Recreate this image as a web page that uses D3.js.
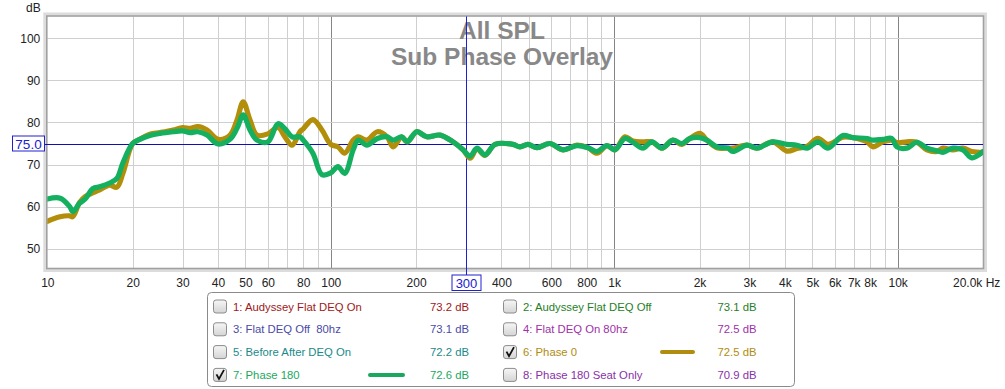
<!DOCTYPE html>
<html><head><meta charset="utf-8">
<script src="https://cdn.jsdelivr.net/npm/d3@7/dist/d3.min.js"></script>
<style>
html,body{margin:0;padding:0;background:#fff;}
svg{display:block;font-family:"Liberation Sans",Arial,sans-serif;}
text{white-space:pre;}
</style></head>
<body>
<svg id="c" width="1005" height="389"></svg>
<script>
// ---- data ----
const freqs = [10,11.1,12.0,12.3,13.0,13.6,14.5,15.3,16.6,17.6,18.5,20,21.2,23.0,25.0,27.8,30,31.9,34.0,36.6,40,44.1,46.7,49.1,51.9,54.9,60,65.1,68.9,73.0,77.9,80,86.5,93.1,100,106,112,120,125,134,146,158,166,178,186,201,218,243,270,293,310,328,350,380,439,465,496,534,593,659,739,808,869,943,1006,1091,1164,1262,1358,1473,1611,1733,1849,2006,2123,2303,2518,2622,2939,3187,3629,4066,4410,4783,5229,5672,6408,6950,7788,8176,8867,9540,9935,10777,11688,12679,13752,14437,15656,16982,18270,20000];
const phase0 = [56.5,57.6,57.8,57.6,61.0,62.4,63.3,64.0,65.1,64.6,68.0,75.0,76.0,77.2,77.6,78.2,78.8,78.6,79.0,78.2,76.0,77.0,80.6,84.9,80.6,77.0,77.3,78.8,76.6,74.6,77.8,78.5,80.7,78.2,74.8,74.2,72.7,75.8,76.6,75.8,77.8,76.6,74.2,76.6,75.4,77.8,76.6,77.0,75.4,73.5,71.5,73.7,72.2,74.8,74.8,74.2,74.8,74.0,75.0,73.5,74.6,74.0,72.7,74.5,73.5,76.6,75.6,75.4,75.4,73.9,75.8,74.8,76.2,77.4,75.8,74.0,73.9,73.9,74.6,73.9,75.4,73.2,73.8,74.3,76.2,74.8,76.5,76.4,75.4,74.2,75.4,75.8,75.2,75.4,75.3,73.5,73.1,73.9,73.5,73.9,73.1,72.9];
const phase180 = [61.8,62.0,60.0,58.8,60.8,61.8,64.3,64.7,65.6,66.7,70.5,75.0,76.0,76.9,77.4,77.8,78.0,77.6,77.8,77.0,74.9,76.0,78.6,81.8,78.2,75.8,75.4,79.7,78.5,76.6,76.6,75.8,72.7,67.6,68.0,69.5,67.9,73.5,75.8,74.6,76.2,76.6,75.8,76.6,75.4,77.8,76.6,77.0,75.4,73.5,72.0,73.9,72.3,74.8,74.8,74.2,74.8,74.0,75.0,73.5,74.5,74.0,73.1,74.5,73.5,76.2,75.3,73.9,75.4,73.9,75.8,75.0,76.2,76.4,75.8,74.2,73.9,73.1,74.6,73.9,75.4,74.8,74.6,73.9,75.4,73.9,76.9,76.4,76.2,75.8,76.0,76.2,74.2,73.9,75.3,73.9,73.3,72.9,73.9,73.5,71.6,73.1];

const yTicks = [50,60,70,80,90,100];
const xTickValues = [10,20,30,40,50,60,80,100,200,400,600,800,1000,2000,3000,4000,5000,6000,7000,8000,10000];
const xTickLabels = ["10","20","30","40","50","60","80","100","200","400","600","800","1k","2k","3k","4k","5k","6k","7k","8k","10k"];
const lastTickLabel = "20.0k Hz";
const cursorFreq = 300, cursorDb = 75.0;
const title1 = "All SPL", title2 = "Sub Phase Overlay";

const legendNames = ["1: Audyssey Flat DEQ On","2: Audyssey Flat DEQ Off","3: Flat DEQ Off  80hz","4: Flat DEQ On 80hz","5: Before After DEQ On","6: Phase 0","7: Phase 180","8: Phase 180 Seat Only"];
const legendValues = ["73.2 dB","73.1 dB","73.1 dB","72.5 dB","72.2 dB","72.5 dB","72.6 dB","70.9 dB"];
const legendColors = ["#a01818","#1f7f1f","#4a4aa8","#a030a8","#1a8a8a","#b08c10","#1aa860","#8a30a8"];
const legendChecked = [false,false,false,false,false,true,true,false];

const GOLD = "#b38e0a", GREEN = "#14b060";

// ---- drawing ----
const svg = d3.select("#c");
const L = 47.3, R = 983, T = 16.5, B = 268;
const x = d3.scaleLog().domain([10,20000]).range([L,R]);
const y = d3.scaleLinear().domain([45.4,105.2]).range([B,T]);

// frame shadow
svg.append("rect").attr("x",L-2.5).attr("y",T-2.5).attr("width",R-L+5).attr("height",B-T+5)
  .attr("fill","none").attr("stroke","#dcdcdc").attr("stroke-width",3);
svg.append("rect").attr("x",L).attr("y",T).attr("width",R-L).attr("height",B-T).attr("fill","#fff");

// grid
const vgrid = [];
[10,100,1000].forEach(d=>{for(let k=1;k<10;k++) vgrid.push(d*k);});
vgrid.push(10000);
const g = svg.append("g");
g.selectAll("line.v").data(vgrid.filter(v=>v>10)).join("line")
  .attr("x1",d=>Math.round(x(d))+0.5).attr("x2",d=>Math.round(x(d))+0.5).attr("y1",T).attr("y2",B)
  .attr("stroke",d=>[100,1000,10000].includes(d)?"#858585":"#cfcfcf").attr("stroke-width",1);
g.selectAll("line.h").data(yTicks).join("line")
  .attr("x1",L).attr("x2",R).attr("y1",d=>Math.round(y(d))+0.5).attr("y2",d=>Math.round(y(d))+0.5)
  .attr("stroke","#cfcfcf").attr("stroke-width",1);

// frame border
svg.append("rect").attr("x",L-0.5).attr("y",T-0.5).attr("width",R-L+1).attr("height",B-T+1)
  .attr("fill","none").attr("stroke","#a0a0a0").attr("stroke-width",1.6);

// title
svg.append("text").attr("x",502).attr("y",38.5).attr("text-anchor","middle")
  .attr("font-size",24.5).attr("font-weight","bold").attr("fill","#888").text(title1);
svg.append("text").attr("x",502).attr("y",65).attr("text-anchor","middle")
  .attr("font-size",24.5).attr("font-weight","bold").attr("fill","#888").text(title2);

// cursor lines
const cy = Math.round(y(cursorDb))+0.5, cx = Math.round(x(cursorFreq))+0.5;
svg.append("line").attr("x1",45).attr("x2",R).attr("y1",cy).attr("y2",cy)
  .attr("stroke","#1010b0").attr("stroke-width",1);
svg.append("line").attr("x1",cx).attr("x2",cx).attr("y1",T).attr("y2",275)
  .attr("stroke","#2020d0").attr("stroke-width",1);

// curves
const line = d3.line().x(d=>x(d[0])).y(d=>y(d[1])).curve(d3.curveCatmullRom.alpha(0.5));
svg.append("clipPath").attr("id","pc").append("rect").attr("x",L).attr("y",T).attr("width",R-L).attr("height",B-T);
const cg = svg.append("g").attr("clip-path","url(#pc)");
cg.append("path").datum(freqs.map((f,i)=>[f,phase0[i]])).attr("d",line)
  .attr("fill","none").attr("stroke",GOLD).attr("stroke-width",5.2).attr("stroke-linejoin","round").attr("stroke-linecap","round");
cg.append("path").datum(freqs.map((f,i)=>[f,phase180[i]])).attr("d",line)
  .attr("fill","none").attr("stroke",GREEN).attr("stroke-width",5.2).attr("stroke-linejoin","round").attr("stroke-linecap","round");

// axes
const yAxis = d3.axisLeft(y).tickValues(yTicks).tickSize(0).tickPadding(7).tickFormat(d3.format("d"));
const ya = svg.append("g").attr("transform",`translate(${L},0)`).call(yAxis);
ya.select(".domain").remove();
ya.selectAll("text").attr("font-size",12).attr("fill","#222").attr("font-family","Liberation Sans, Arial, sans-serif");

const xAxis = d3.axisBottom(x).tickValues(xTickValues).tickSize(0).tickPadding(10)
  .tickFormat((d,i)=>xTickLabels[i]);
const xa = svg.append("g").attr("transform",`translate(0,${B})`).call(xAxis);
xa.select(".domain").remove();
xa.selectAll("text").attr("font-size",12).attr("fill","#222").attr("font-family","Liberation Sans, Arial, sans-serif");
svg.append("text").attr("x",953).attr("y",287).attr("font-size",12).attr("fill","#222").text(lastTickLabel);

svg.append("text").attr("x",26).attr("y",11.5).attr("font-size",12).attr("fill","#222").text("dB");

// cursor labels
svg.append("rect").attr("x",12.5).attr("y",136).attr("width",32).attr("height",15)
  .attr("fill","#fff").attr("stroke","#2020d0").attr("stroke-width",1);
svg.append("text").attr("x",28.5).attr("y",148.5).attr("text-anchor","middle").attr("font-size",13.5)
  .attr("fill","#2020d0").text(cursorDb.toFixed(1));
svg.append("rect").attr("x",cx-14.5).attr("y",275).attr("width",29).attr("height",15.5)
  .attr("fill","#fff").attr("stroke","#2020d0").attr("stroke-width",1);
svg.append("text").attr("x",cx).attr("y",287.5).attr("text-anchor","middle").attr("font-size",13)
  .attr("fill","#2020d0").text(String(cursorFreq));

// legend
svg.append("rect").attr("x",207.5).attr("y",292.5).attr("width",587).attr("height",94).attr("rx",4)
  .attr("fill","#fff").attr("stroke","#8a8a8a").attr("stroke-width",1);
const defs = svg.append("defs");
const grad = defs.append("linearGradient").attr("id","cb").attr("x1",0).attr("y1",0).attr("x2",0).attr("y2",1);
grad.append("stop").attr("offset","0").attr("stop-color","#f6f6f6");
grad.append("stop").attr("offset","1").attr("stop-color","#d4d4d4");
const rowsY = [306.5,329.3,352.1,374.9];
const colX = [{cb:213.5,tx:233,val:430,ls:370,le:403},{cb:503.5,tx:523,val:717.5,ls:662,le:693}];
legendNames.forEach((name,i)=>{
  const col = colX[i%2], ry = rowsY[Math.floor(i/2)];
  const lg = svg.append("g");
  lg.append("rect").attr("x",col.cb).attr("y",ry-6.5).attr("width",13).attr("height",13).attr("rx",2.5)
    .attr("fill","url(#cb)").attr("stroke","#8c8c8c").attr("stroke-width",1);
  if(legendChecked[i]){
    lg.append("path").attr("d",`M${col.cb+3},${ry-0.5} L${col.cb+5.5},${ry+4} L${col.cb+10.5},${ry-5}`)
      .attr("fill","none").attr("stroke","#111").attr("stroke-width",1.8);
    lg.append("line").attr("x1",col.ls).attr("x2",col.le).attr("y1",ry).attr("y2",ry)
      .attr("stroke",legendColors[i]).attr("stroke-width",4).attr("stroke-linecap","round");
  }
  lg.append("text").attr("x",col.tx).attr("y",ry+4).attr("font-size",11.3).attr("fill",legendColors[i]).text(name);
  lg.append("text").attr("x",col.val).attr("y",ry+4).attr("font-size",11.3).attr("fill",legendColors[i]).text(legendValues[i]);
});
</script>
</body></html>
